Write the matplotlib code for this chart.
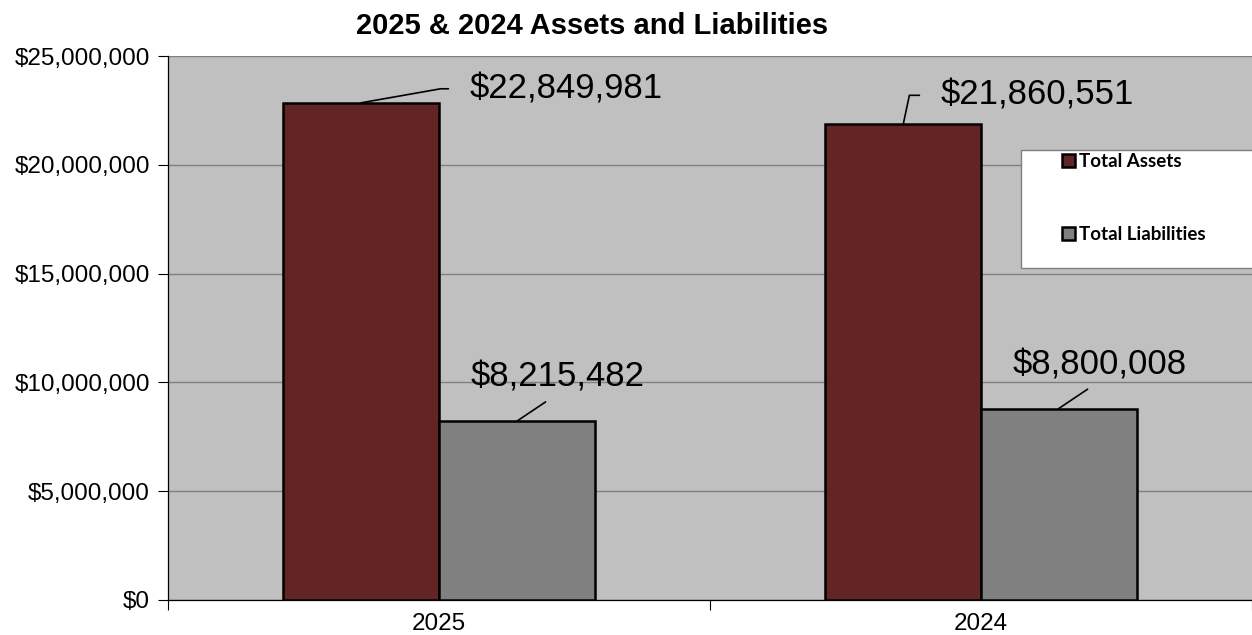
import matplotlib.pyplot as plt
import matplotlib.patches as mpatches
import numpy as np
from matplotlib.ticker import FuncFormatter, FixedLocator

plt.rcParams['font.family'] = ['Liberation Sans', 'DejaVu Sans']

years = ['2025', '2024']
total_assets = [22849981, 21860551]
total_liabilities = [8215482, 8800008]

assets_color = '#632523'
liab_color = '#808080'

fig = plt.figure(figsize=(12.52, 6.35), dpi=100)
ax = fig.add_axes([168 / 1252, 1 - 600 / 635, 1 - 168 / 1252, (600 - 56) / 635])
ax.set_facecolor('#C0C0C0')

x = np.arange(len(years))
w = 0.287
b1 = ax.bar(x - w / 2, total_assets, w, color=assets_color, edgecolor='black', linewidth=1.8, zorder=3)
b2 = ax.bar(x + w / 2, total_liabilities, w, color=liab_color, edgecolor='black', linewidth=1.8, zorder=3)

ax.set_xlim(-0.5, len(years) - 0.5)
ax.set_ylim(0, 25000000)
ax.set_yticks(np.arange(0, 25000001, 5000000))
ax.yaxis.set_major_formatter(FuncFormatter(lambda v, p: '${:,.0f}'.format(v)))
ax.grid(axis='y', color='#808080', linewidth=1.0, zorder=0)

# category boundaries get tick marks, labels sit at the centres
ax.xaxis.set_major_locator(FixedLocator(np.arange(-0.5, len(years), 1.0)))
ax.xaxis.set_minor_locator(FixedLocator(x))
ax.set_xticklabels([])
ax.set_xticklabels(years, minor=True)
ax.tick_params(axis='x', which='major', length=7, width=0.8, direction='out')
ax.tick_params(axis='x', which='minor', length=0, pad=9, labelsize=17.5)
ax.tick_params(axis='y', length=7, width=0.8, direction='out', labelsize=17.5, pad=6)

for s in ['top', 'right']:
    ax.spines[s].set_visible(False)
ax.spines['left'].set_linewidth(0.9)
ax.spines['bottom'].set_linewidth(0.9)

fig.text(592 / 1252, 1 - 26 / 635, '2025 & 2024 Assets and Liabilities',
         ha='center', va='center', fontsize=21, fontweight='bold')

# data labels with leader lines
lbl_kw = dict(fontsize=25, textcoords='offset pixels', zorder=5)
for i in range(len(years)):
    xa = x[i] - w / 2
    xl = x[i] + w / 2
    if i == 0:
        ax.annotate('${:,}'.format(total_assets[i]), xy=(xa, total_assets[i]),
                    xytext=(108, 14), ha='left', va='center',
                    arrowprops=dict(arrowstyle='-', color='black', lw=1.2, relpos=(0, 0.5),
                                    shrinkA=13, shrinkB=0,
                                    connectionstyle='angle,angleA=0,angleB=10,rad=0'),
                    **lbl_kw)
    else:
        ax.annotate('${:,}'.format(total_assets[i]), xy=(xa, total_assets[i]),
                    xytext=(37, 29), ha='left', va='center',
                    arrowprops=dict(arrowstyle='-', color='black', lw=1.2, relpos=(0, 0.5),
                                    shrinkA=13, shrinkB=0,
                                    connectionstyle='angle,angleA=0,angleB=78,rad=0'),
                    **lbl_kw)
    ax.annotate('${:,}'.format(total_liabilities[i]), xy=(xl, total_liabilities[i]),
                xytext=(41, 44), ha='center', va='center',
                arrowprops=dict(arrowstyle='-', color='black', lw=1.2, relpos=(0.5, 0),
                                shrinkA=7, shrinkB=0),
                **lbl_kw)

# legend box
box = mpatches.Rectangle((1021 / 1252, 1 - 268 / 635), 0.3, (268 - 150) / 635,
                         transform=fig.transFigure, facecolor='white',
                         edgecolor='#808080', linewidth=1.0, zorder=6)
fig.patches.append(box)
handles = [mpatches.Patch(facecolor=assets_color, edgecolor='black', linewidth=1.8),
           mpatches.Patch(facecolor=liab_color, edgecolor='black', linewidth=1.8)]
leg = fig.legend(handles, ['Total Assets', 'Total Liabilities'],
                 loc='upper left', bbox_to_anchor=(1062 / 1252, 1 - 153 / 635),
                 frameon=False, prop={'family': 'Lato', 'weight': 'bold', 'size': 13.5},
                 handlelength=0.7, handleheight=0.7, handletextpad=0.2,
                 labelspacing=3.0, borderpad=0, borderaxespad=0)
leg.set_zorder(7)

fig.savefig('out.png', dpi=100)
